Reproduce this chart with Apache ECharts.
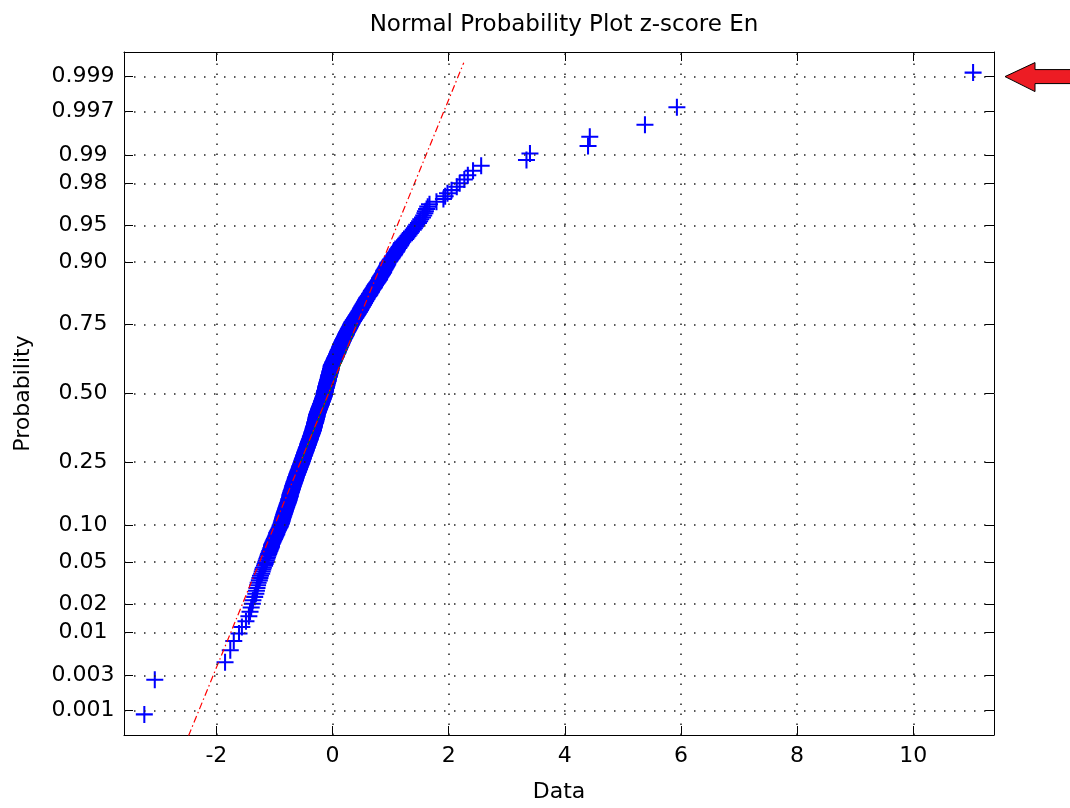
<!DOCTYPE html>
<html>
<head>
<meta charset="utf-8">
<script src="https://cdn.jsdelivr.net/npm/echarts@6/dist/echarts.min.js"></script>
<style>html,body{margin:0;padding:0;background:#fff;}#c{width:1070px;height:808px;}</style>
</head>
<body>
<div id="c"></div>
<script>
// ---------------- data (sorted sample values) ----------------
const titleText = 'Normal Probability Plot z-score En';
const xName = 'Data';
const yName = 'Probability';
const tailLowX = [-3.24,-3.06,-1.85,-1.76,-1.70,-1.61,-1.56,-1.49,-1.44,-1.42,-1.40,-1.38,-1.37,-1.34,-1.32,-1.31,-1.30,-1.29];
const bandLowX = [
 -1.28,-1.26,-1.25,-1.24,-1.22,-1.21,-1.20,-1.19,-1.17,-1.16,-1.15,
 -1.14,-1.13,-1.12,-1.11,-1.10,-1.09,-1.08,-1.07,-1.06,-1.05,-1.05,-1.04,-1.03,-1.02,-1.01,-1.00,-0.99,-0.98,-0.97,-0.96,-0.96,-0.95,-0.94,-0.93,-0.92,-0.91,-0.90,-0.90,-0.89,
 -0.88,-0.88,-0.87,-0.87,-0.86,-0.86,-0.85,-0.85,-0.84,-0.84,-0.83,-0.83,-0.82,-0.82,-0.81,-0.81,-0.80,-0.80,-0.79,-0.79,-0.78,-0.78,-0.77,-0.77,-0.76,-0.76,-0.75,-0.75,-0.75,-0.74,-0.74,-0.73,-0.73,
 -0.73,-0.73,-0.72,-0.72,-0.71,-0.71,-0.71,-0.70,-0.70,-0.69,-0.69,-0.69,-0.68,-0.68,-0.68,-0.67,-0.67,-0.66,-0.66,-0.66,-0.65,-0.65,-0.64,-0.64,-0.64,-0.63,-0.63,-0.63,-0.62,-0.62,-0.61,-0.61,-0.61,-0.60,-0.60,-0.59,-0.59,-0.59,-0.58,-0.58,-0.57,-0.57,-0.57,-0.56,-0.56,-0.56,-0.55,-0.55,-0.54,-0.54,-0.54,-0.53
];
const bandMidX = [
 -0.53,-0.53,-0.52,-0.52,-0.52,-0.51,-0.51,-0.51,-0.50,-0.50,-0.50,-0.49,-0.49,-0.49,-0.48,-0.48,-0.48,-0.47,-0.47,-0.47,-0.46,-0.46,-0.46,-0.45,-0.45,-0.45,-0.44,-0.44,-0.44,-0.43,-0.43,
 -0.43,-0.42,-0.42,-0.42,-0.42,-0.41,-0.41,-0.41,-0.40,-0.40,-0.40,-0.39,-0.39,-0.39,-0.38,-0.38,-0.38,-0.38,-0.37,-0.37,-0.37,-0.36,-0.36,-0.36,-0.35,-0.35,-0.35,-0.35,-0.34,-0.34,-0.34,-0.33,-0.33,-0.33,
 -0.33,-0.33,-0.32,-0.32,-0.32,-0.32,-0.31,-0.31,-0.31,-0.31,-0.31,-0.30,-0.30,-0.30,-0.30,-0.29,-0.29,-0.29,-0.29,-0.29,-0.28,-0.28,-0.28,-0.28,-0.28,-0.27,-0.27,-0.27,
 -0.27,-0.27,-0.27,-0.26,-0.26,-0.26,-0.25,-0.25,-0.25,-0.25,-0.24,-0.24,-0.24,-0.23,-0.23,-0.23,-0.23,-0.22,-0.22,-0.22,-0.21,-0.21,-0.21,-0.20,-0.20,-0.20,-0.20,-0.19,-0.19,-0.19,-0.18,-0.18,-0.18,-0.18,-0.17,-0.17,-0.17,-0.16,-0.16,-0.16,-0.16,-0.15,-0.15,-0.15,-0.14,-0.14,-0.14,-0.14,
 -0.14,-0.14,-0.14,-0.13,-0.13,-0.13,-0.13,-0.13,-0.12,-0.12,-0.12,-0.12,-0.12,-0.11,-0.11,-0.11,-0.11,-0.11,-0.10,-0.10,-0.10,-0.10,-0.10,-0.09,-0.09,-0.09,-0.09,-0.08,-0.08,-0.08,-0.08,-0.08,-0.07,-0.07,-0.07,-0.07,-0.07,-0.06,-0.06,-0.06,-0.06,-0.06,-0.05,-0.05,-0.05,-0.05,-0.04,-0.04,-0.04,-0.04,-0.04,-0.03,-0.03,-0.03,-0.03,-0.03,-0.02,-0.02,-0.02,-0.02,-0.02,-0.02
];
const bandHighX = [
 -0.01,-0.01,-0.01,0.00,0.00,0.01,0.01,0.01,0.02,0.02,0.03,0.03,0.03,0.04,0.04,0.04,0.05,0.05,0.06,0.06,0.06,0.07,0.07,0.07,0.08,0.08,0.09,0.09,0.09,0.10,0.10,0.10,0.11,0.11,0.12,0.12,0.12,0.13,0.13,0.13,0.14,0.14,0.15,0.15,0.15,0.16,0.16,0.16,0.17,0.17,0.18,0.18,0.18,0.19,
 0.19,0.20,0.20,0.21,0.21,0.22,0.22,0.23,0.23,0.23,0.24,0.24,0.25,0.25,0.26,0.26,0.27,0.27,0.28,0.28,0.29,0.29,0.30,0.30,0.31,0.31,0.32,0.32,
 0.33,0.33,0.34,0.34,0.35,0.36,0.36,0.37,0.38,0.38,0.39,0.40,0.40,0.41,0.42,0.42,0.43,0.44,0.44,0.45,0.46,0.46,0.47,0.48,0.48,0.49,0.49,0.50,0.51,0.51,0.52,0.53,0.53,0.54,0.55,0.55,0.56,0.57,0.57,0.58,
 0.59,0.59,0.60,0.61,0.62,0.63,0.64,0.64,0.65,0.66,0.67,0.67,0.68,0.69,0.70,0.71,0.72,0.72,0.73,0.74,0.75,0.76,
 0.77,0.78,0.79,0.80,0.81,0.81,0.82,0.83,0.84,0.85,0.86,0.87,0.88,0.88,0.89,0.90,0.91,0.92,0.93,0.94,0.95,0.95,0.96,
 0.98,0.99,1.00,1.02,1.03,1.04,1.06,1.07,1.08,1.10,1.11,1.12,1.14,1.15,1.17,1.18,1.19,
 1.21,1.24,1.26,1.28,1.30,1.32,1.34,1.36,1.39,1.41,1.43,1.45,
 1.48,1.50,1.52,1.55,1.57,1.59,1.60,1.62,1.64
];
const tailHighX = [1.67,1.79,1.91,1.94,1.98,2.05,2.14,2.19,2.27,2.33,2.42,2.56,3.34,3.40,4.40,4.43,5.38,5.93,11.03];

// reference fit line (dash-dot, full span) and quartile segment (solid)
const refLineX = [-2.48, 2.26];
const refLineP = [0.00042, 0.99937];
const quartLineX = [-0.55, 0.42];
const quartLineP = [0.25, 0.75];

// axis ticks
const xTicks = [-2, 0, 2, 4, 6, 8, 10];
const xRange = [-3.59, 11.39];
const probTicks = [0.001, 0.003, 0.01, 0.02, 0.05, 0.10, 0.25, 0.50, 0.75, 0.90, 0.95, 0.98, 0.99, 0.997, 0.999];
const probLabels = ['0.001','0.003','0.01','0.02','0.05','0.10','0.25','0.50','0.75','0.90','0.95','0.98','0.99','0.997','0.999'];
const zRange = [-3.33, 3.33];

// ---------------- normal quantile (probability-scale transform) ----------------
function norminv(p) {
  const a=[-3.969683028665376e+01,2.209460984245205e+02,-2.759285104469687e+02,1.383577518672690e+02,-3.066479806614716e+01,2.506628277459239e+00];
  const b=[-5.447609879822406e+01,1.615858368580409e+02,-1.556989798598866e+02,6.680131188771972e+01,-1.328068155288572e+01];
  const c=[-7.784894002430293e-03,-3.223964580411365e-01,-2.400758277161838e+00,-2.549732539343734e+00,4.374664141464968e+00,2.938163982698783e+00];
  const d=[7.784695709041462e-03,3.224671290700398e-01,2.445134137142996e+00,3.754408661907416e+00];
  const pl=0.02425, ph=1-pl; let q,r;
  if (p<pl){q=Math.sqrt(-2*Math.log(p));return (((((c[0]*q+c[1])*q+c[2])*q+c[3])*q+c[4])*q+c[5])/((((d[0]*q+d[1])*q+d[2])*q+d[3])*q+1);}
  if (p>ph){q=Math.sqrt(-2*Math.log(1-p));return -(((((c[0]*q+c[1])*q+c[2])*q+c[3])*q+c[4])*q+c[5])/((((d[0]*q+d[1])*q+d[2])*q+d[3])*q+1);}
  q=p-0.5;r=q*q;
  return (((((a[0]*r+a[1])*r+a[2])*r+a[3])*r+a[4])*r+a[5])*q/(((((b[0]*r+b[1])*r+b[2])*r+b[3])*r+b[4])*r+1);
}

const allX = tailLowX.concat(bandLowX, bandMidX, bandHighX, tailHighX);
const N = allX.length;
// plotting positions (i-0.5)/N as used by a normal probability plot
const points = allX.map((x, i) => [x, norminv((i + 0.5) / N)]);
const refLine = refLineX.map((x, i) => [x, norminv(refLineP[i])]);
const quartLine = quartLineX.map((x, i) => [x, norminv(quartLineP[i])]);
const zTicks = probTicks.map(norminv);

const FONT = 'DejaVu Sans';
const labelFmt = v => { for (let i = 0; i < zTicks.length; i++) if (Math.abs(zTicks[i] - v) < 1e-6) return probLabels[i]; return ''; };
const gridDot = { color: '#222', width: 1.5, type: [1.5, 8.5] };

const chart = echarts.init(document.getElementById('c'), null, { renderer: 'canvas' });
chart.setOption({
  animation: false,
  backgroundColor: '#fff',
  title: {
    text: titleText, left: 559, top: 9, textAlign: 'center',
    textStyle: { fontFamily: FONT, fontSize: 23, fontWeight: 'normal', color: '#000' }
  },
  grid: { left: 124, right: 76, top: 52, bottom: 70, containLabel: false },
  xAxis: [{
    type: 'value', position: 'bottom', min: xRange[0], max: xRange[1],
    name: xName, nameLocation: 'middle', nameGap: 46,
    nameTextStyle: { fontFamily: FONT, fontSize: 22, color: '#000' },
    axisLine: { show: true, onZero: false, lineStyle: { color: '#000', width: 1 } },
    axisTick: { show: true, inside: true, length: 9, customValues: xTicks, lineStyle: { color: '#000' } },
    axisLabel: { show: true, customValues: xTicks, margin: 10, fontFamily: FONT, fontSize: 22, color: '#000' },
    splitLine: { show: false }
  }, {
    type: 'value', position: 'top', min: xRange[0], max: xRange[1],
    axisLine: { show: true, onZero: false, lineStyle: { color: '#000', width: 1 } },
    axisTick: { show: true, inside: true, length: 9, customValues: xTicks, lineStyle: { color: '#000' } },
    axisLabel: { show: false },
    splitLine: { show: false }
  }],
  yAxis: [{
    type: 'value', position: 'left', min: zRange[0], max: zRange[1],
    name: yName, nameLocation: 'middle', nameGap: 90, nameRotate: 90,
    nameTextStyle: { fontFamily: FONT, fontSize: 22, color: '#000' },
    axisLine: { show: true, onZero: false, lineStyle: { color: '#000', width: 1 } },
    axisTick: { show: true, inside: true, length: 9, customValues: zTicks, lineStyle: { color: '#000' } },
    axisLabel: { show: true, customValues: zTicks, formatter: labelFmt, align: 'center', margin: 41,
                 fontFamily: FONT, fontSize: 22, color: '#000' },
    splitLine: { show: false }
  }, {
    type: 'value', position: 'right', min: zRange[0], max: zRange[1],
    axisLine: { show: true, onZero: false, lineStyle: { color: '#000', width: 1 } },
    axisTick: { show: true, inside: true, length: 9, customValues: zTicks, lineStyle: { color: '#000' } },
    axisLabel: { show: false },
    splitLine: { show: false }
  }],
  series: [{
    type: 'line', name: 'grid', data: [], silent: true, z: 1,
    markLine: {
      silent: true, symbol: ['none', 'none'], animation: false,
      label: { show: false }, lineStyle: gridDot, emphasis: { disabled: true },
      data: zTicks.map(z => ({ yAxis: z })).concat(xTicks.map(x => ({ xAxis: x })))
    }
  }, {
    type: 'scatter', name: 'data', data: points, silent: true, z: 2,
    symbol: 'path://M8.8,0h2.4v20h-2.4zM0,8.8h20v2.4h-20z', symbolSize: 17,
    itemStyle: { color: '#0000ff', opacity: 1 }
  }, {
    type: 'line', name: 'quartiles', data: quartLine, silent: true, z: 3,
    symbol: 'none', lineStyle: { color: '#008000', width: 1, type: 'solid' }
  }, {
    type: 'line', name: 'fit', data: refLine, silent: true, z: 4,
    symbol: 'none', lineStyle: { color: '#ff0000', width: 1.2, type: [7, 3, 1.5, 3] }
  }]
});

// annotation arrow pointing at the 0.999 level on the right edge
const yArrow = chart.convertToPixel({ yAxisIndex: 0 }, norminv(0.999));
const xArrow = chart.convertToPixel({ xAxisIndex: 0 }, xRange[1]) + 11;
chart.setOption({
  graphic: [{
    type: 'polygon', x: xArrow, y: yArrow, z: 100, silent: true,
    shape: { points: [[0, 0], [30, -14], [30, -7], [70, -7], [70, 7], [30, 7], [30, 15]] },
    style: { fill: '#ed1c24', stroke: '#000', lineWidth: 1 }
  }]
});
</script>
</body>
</html>
